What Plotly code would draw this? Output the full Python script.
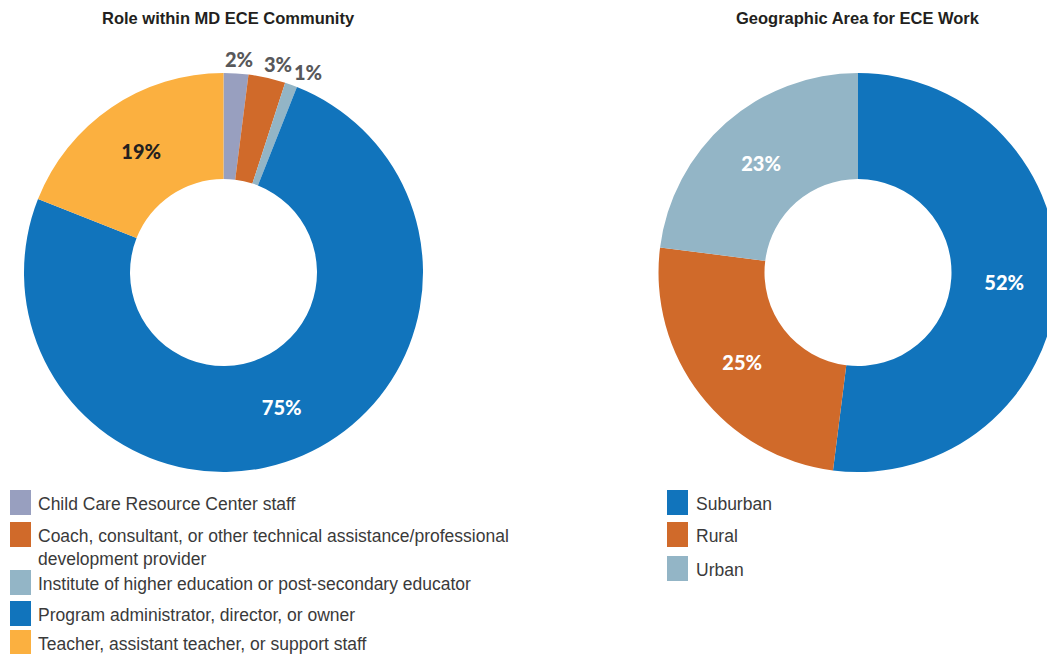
import math
import plotly.graph_objects as go

# Canvas is a little wider than the visible page so the right ring runs off the edge
W, H = 1070, 654

# ---- data -------------------------------------------------------------
role_labels = [
    "Child Care Resource Center staff",
    "Coach, consultant, or other technical assistance/professional development provider",
    "Institute of higher education or post-secondary educator",
    "Program administrator, director, or owner",
    "Teacher, assistant teacher, or support staff",
]
role_legend_text = [
    "Child Care Resource Center staff",
    "Coach, consultant, or other technical assistance/professional<br>development provider",
    "Institute of higher education or post-secondary educator",
    "Program administrator, director, or owner",
    "Teacher, assistant teacher, or support staff",
]
role_values = [2, 3, 1, 75, 19]
role_colors = ["#989fbf", "#d06a2a", "#93b5c6", "#1174bc", "#fbb040"]

area_labels = ["Suburban", "Rural", "Urban"]
area_values = [52, 25, 23]
area_colors = ["#1174bc", "#d06a2a", "#93b5c6"]

titles = ["Role within MD ECE Community", "Geographic Area for ECE Work"]

# ---- layout helpers (pixel -> paper) ----------------------------------
def px_x(x):
    return x / W

def px_y(y):
    return 1 - y / H

def ring_domain(cx, cy, r):
    return dict(x=[px_x(cx - r), px_x(cx + r)], y=[px_y(cy + r), px_y(cy - r)])

R_OUT, R_IN = 199.5, 93.5
LEFT_C = (223.5, 272.5)
RIGHT_C = (858, 272.5)
SMALL = 5  # slices under this share get their label outside the ring

LABEL_FONT = dict(family="Lato Black, Lato, Inter, Arial, sans-serif", size=20, weight=900)

fig = go.Figure()

# Left ring: role within the community
role_textpos = ["none" if v < SMALL else "inside" for v in role_values]
role_textcol = ["#ffffff"] * len(role_values)
role_textcol[4] = "#231f20"
fig.add_trace(go.Pie(
    labels=role_labels, values=role_values,
    marker=dict(colors=role_colors, line=dict(width=0)),
    hole=R_IN / R_OUT, sort=False, direction="clockwise", rotation=0,
    texttemplate="%{value}%", textposition=role_textpos,
    textfont=dict(color=role_textcol, **LABEL_FONT),
    insidetextorientation="horizontal",
    domain=ring_domain(LEFT_C[0], LEFT_C[1], R_OUT),
    showlegend=False, hoverinfo="label+value",
))

# Right ring: geographic area
fig.add_trace(go.Pie(
    labels=area_labels, values=area_values,
    marker=dict(colors=area_colors, line=dict(width=0)),
    hole=R_IN / R_OUT, sort=False, direction="clockwise", rotation=0,
    texttemplate="%{value}%", textposition="inside",
    textfont=dict(color="#ffffff", **LABEL_FONT),
    insidetextorientation="horizontal",
    domain=ring_domain(RIGHT_C[0], RIGHT_C[1], R_OUT),
    showlegend=False, hoverinfo="label+value",
))

annotations = []
shapes = []

# Labels for the thin slices sit just outside the rim, at each slice's mid-angle,
# pushed sideways so neighbouring labels fan out
GAP, PUSH_X, HALF_H = 4, 45, 10
total = sum(role_values)
cum = 0
for v in role_values:
    if v < SMALL:
        theta = 2 * math.pi * (cum + v / 2) / total
        s, c = math.sin(theta), math.cos(theta)
        lx = LEFT_C[0] + (R_OUT + GAP) * s + PUSH_X * s
        ly = LEFT_C[1] - (R_OUT + GAP) * c - HALF_H * c
        annotations.append(dict(text=f"{v}%", x=px_x(lx), y=px_y(ly), xref="paper", yref="paper",
                                xanchor="center", yanchor="middle", showarrow=False,
                                font=dict(color="#58585a", **LABEL_FONT)))
    cum += v

# Chart titles
TITLE_FONT = dict(family="Liberation Sans, Arial, sans-serif",
                  size=16.5, color="#231f20", weight="bold")
for text, cx in zip(titles, [228, 858]):
    annotations.append(dict(text=text, x=px_x(cx), y=px_y(18), xref="paper", yref="paper",
                            xanchor="center", yanchor="middle", showarrow=False, font=TITLE_FONT))

# Hand-built legends with tall swatches
LEG_FONT = dict(family="Liberation Sans, Arial, sans-serif", size=17.5, color="#3a3a3a")
SW_W, SW_H = 21, 25


def add_legend(texts, colors, sw_left, text_left, row_tops):
    for text, color, top in zip(texts, colors, row_tops):
        shapes.append(dict(type="rect", xref="paper", yref="paper",
                           x0=px_x(sw_left), x1=px_x(sw_left + SW_W),
                           y0=px_y(top + SW_H), y1=px_y(top),
                           fillcolor=color, line=dict(width=0)))
        annotations.append(dict(text=text, x=px_x(text_left), y=px_y(top + 2),
                                xref="paper", yref="paper", xanchor="left", yanchor="top",
                                align="left", showarrow=False, font=LEG_FONT))


add_legend(role_legend_text, role_colors, 10, 36, [490, 522, 570, 601, 630])
add_legend(area_labels, area_colors, 667, 694, [490, 522, 556])

fig.update_layout(
    width=W, height=H,
    margin=dict(l=0, r=0, t=0, b=0),
    paper_bgcolor="#ffffff", plot_bgcolor="#ffffff",
    annotations=annotations, shapes=shapes,
)

fig.write_html(
    "out.html",
    post_script="document.body.style.margin='0';"
                "document.body.style.overflow='hidden';"
                "document.documentElement.style.overflow='hidden';",
)
